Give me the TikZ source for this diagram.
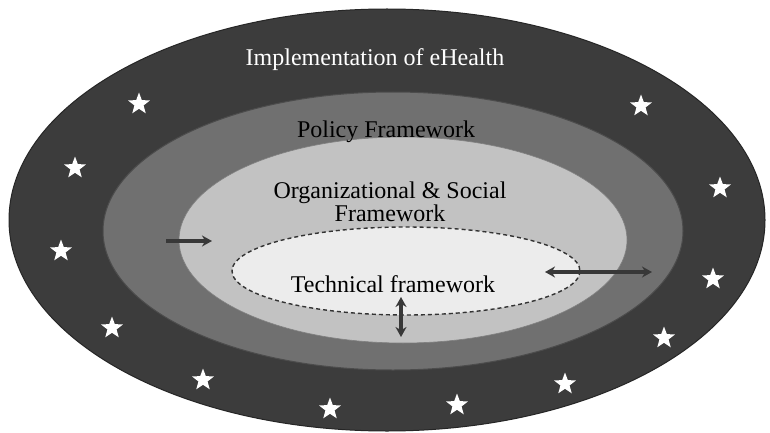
\documentclass[tikz,border=0pt]{standalone}
\usepackage{fontspec}
\setmainfont{Liberation Serif}
\usetikzlibrary{shapes.geometric,arrows.meta}
\definecolor{outerband}{HTML}{3C3C3C}
\definecolor{policyband}{HTML}{707070}
\definecolor{orgband}{HTML}{C2C2C2}
\definecolor{techband}{HTML}{ECECEC}
\definecolor{arrowgray}{HTML}{383838}
\tikzset{
  lbl/.style={font=\fontsize{24}{23}\selectfont, inner sep=0pt, align=center},
  starmark/.style={star, star points=5, star point ratio=2.4, minimum size=23pt, inner sep=0pt, fill=white, draw=none},
  linkarrow/.style={draw=arrowgray, line width=3.5pt, -{Stealth[length=10pt,width=11pt]}},
  dlinkarrow/.style={draw=arrowgray, line width=3.5pt, {Stealth[length=10pt,width=11pt]}-{Stealth[length=10pt,width=11pt]}},
}
\begin{document}
\begin{tikzpicture}[x=1pt,y=-1pt]
\useasboundingbox (0,0) rectangle (770,433);
\fill[white] (0,0) rectangle (770,433);
% rings
\filldraw[fill=outerband, draw=black!85, line width=1pt] (387,220) ellipse [x radius=378, y radius=211];
\filldraw[fill=policyband, draw=black!70, line width=1pt] (393,231) ellipse [x radius=290, y radius=139];
\filldraw[fill=orgband, draw=black!50, line width=0.6pt] (403,240) ellipse [x radius=224, y radius=103];
\filldraw[fill=techband, draw=black!80, dash pattern=on 4pt off 3pt, line width=1.4pt] (406,271) ellipse [x radius=174, y radius=44];
% labels
\node[lbl, text=white, anchor=base] (impl) at (375,66) {Implementation of eHealth};
\node[lbl, anchor=base] (policy) at (386,137) {Policy Framework};
\node[lbl] (org) at (390,202) {Organizational \& Social\\Framework};
\node[lbl, anchor=base] (tech) at (393,292) {Technical framework};
% stars
\foreach \i/\sx/\sy in {1/139/104, 2/75/168, 3/61/251, 4/112/328, 5/203/380, 6/330/409, 7/457/405, 8/565/384, 9/664/338, 10/713/279, 11/720/188, 12/641/106}
  \node[starmark] (s\i) at (\sx,\sy) {};
% arrows
\coordinate (la1) at (166,241);
\coordinate (la2) at (212,241);
\coordinate (ra1) at (652,272);
\coordinate (ra2) at (545,272);
\coordinate (va1) at (401,297);
\coordinate (va2) at (401,337);
\draw[linkarrow] (la1) -- (la2);
\draw[dlinkarrow] (ra1) -- (ra2);
\draw[dlinkarrow] (va1) -- (va2);
\end{tikzpicture}
\end{document}
